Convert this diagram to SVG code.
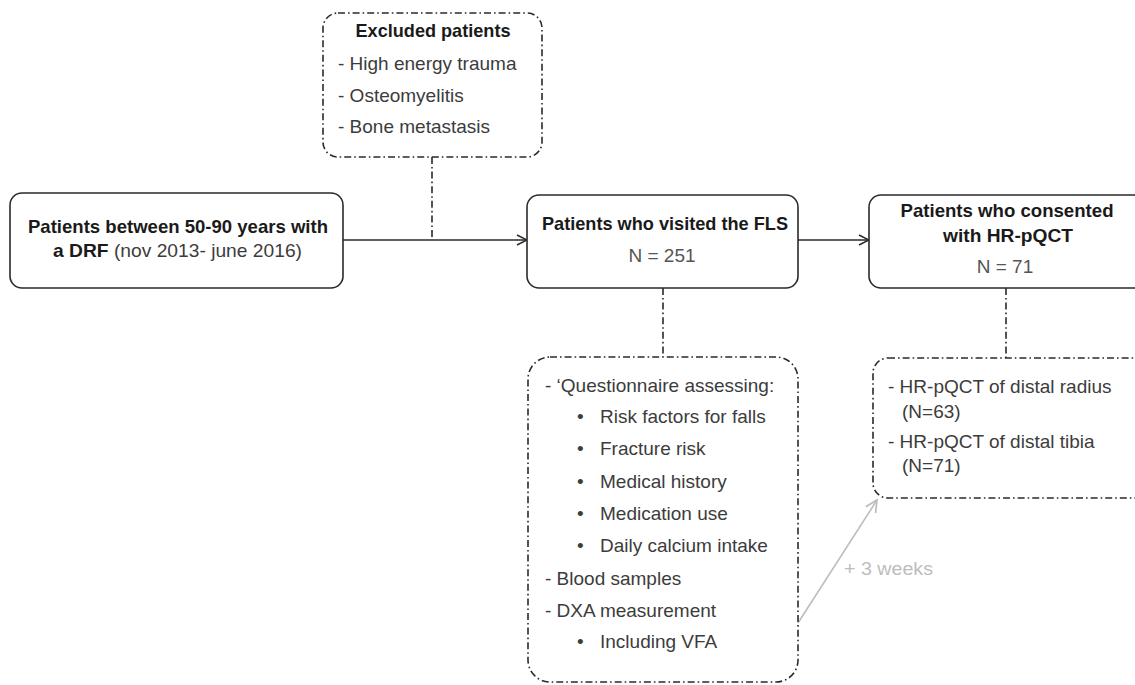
<svg xmlns="http://www.w3.org/2000/svg" width="1135" height="685" viewBox="0 0 1135 685">
<style>
text{font-family:"Liberation Sans",Arial,sans-serif;font-size:19px;fill:#3c3c3c}
.b{font-weight:bold;fill:#1a1a1a}
.c{text-anchor:middle}
.n{fill:#555}
.box{fill:#fff;stroke:#2a2a2a;stroke-width:1.6}
.dd{fill:none;stroke:#2a2a2a;stroke-width:1.6;stroke-dasharray:7 3 1.6 3}
.ln{fill:none;stroke:#2a2a2a;stroke-width:1.6}
.g{fill:#bdbdbd}
</style>
<defs>
<marker id="ah" viewBox="0 0 12 12" refX="11" refY="6" markerWidth="12" markerHeight="12" markerUnits="userSpaceOnUse" orient="auto">
<path d="M1,1 L11,6 L1,11" fill="none" stroke="#2a2a2a" stroke-width="1.5"/>
</marker>
<marker id="ahg" viewBox="0 0 12 12" refX="11" refY="6" markerWidth="14" markerHeight="14" markerUnits="userSpaceOnUse" orient="auto">
<path d="M1,1 L11,6 L1,11" fill="none" stroke="#bdbdbd" stroke-width="1.5"/>
</marker>
</defs>
<g id="connectors">
<line class="ln" x1="343" y1="240" x2="527" y2="240" marker-end="url(#ah)"/>
<line class="ln" x1="798" y1="240" x2="869" y2="240" marker-end="url(#ah)"/>
<line class="dd" x1="432" y1="157" x2="432" y2="240"/>
<line class="dd" x1="663" y1="288" x2="663" y2="357"/>
<line class="dd" x1="1006" y1="288" x2="1006" y2="358"/>
<line x1="798" y1="623" x2="877" y2="500" stroke="#bdbdbd" stroke-width="1.6" marker-end="url(#ahg)"/>
<text class="g" x="844" y="575" textLength="89" lengthAdjust="spacingAndGlyphs">+ 3 weeks</text>
</g>
<g id="excluded">
<rect class="dd" x="323" y="13" width="219" height="144" rx="15"/>
<text class="b c" x="433" y="37" textLength="155" lengthAdjust="spacingAndGlyphs">Excluded patients</text>
<text x="338" y="70">- High energy trauma</text>
<text x="338" y="102">- Osteomyelitis</text>
<text x="338" y="133">- Bone metastasis</text>
</g>
<g id="patients">
<rect class="box" x="10" y="193" width="333" height="95" rx="12"/>
<text class="b c" x="178" y="233" textLength="300" lengthAdjust="spacingAndGlyphs">Patients between 50-90 years with</text>
<text x="53" y="257" textLength="249" lengthAdjust="spacingAndGlyphs"><tspan class="b">a DRF</tspan> (nov 2013- june 2016)</text>
</g>
<g id="fls">
<rect class="box" x="527" y="195" width="271" height="93" rx="12"/>
<text class="b c" x="665" y="230" textLength="246" lengthAdjust="spacingAndGlyphs">Patients who visited the FLS</text>
<text class="c n" x="662" y="262">N = 251</text>
</g>
<g id="consented">
<rect class="box" x="869" y="195" width="290" height="93" rx="12"/>
<text class="b c" x="1007" y="217" textLength="213" lengthAdjust="spacingAndGlyphs">Patients who consented</text>
<text class="b c" x="1008" y="242" textLength="130" lengthAdjust="spacingAndGlyphs">with HR-pQCT</text>
<text class="c n" x="1005" y="273">N = 71</text>
</g>
<g id="assessments">
<rect class="dd" x="528" y="357" width="270" height="325" rx="22"/>
<text x="545" y="392">- ‘Questionnaire assessing:</text>
<text x="577" y="423">•</text><text x="600" y="423">Risk factors for falls</text>
<text x="577" y="455">•</text><text x="600" y="455">Fracture risk</text>
<text x="577" y="488">•</text><text x="600" y="488">Medical history</text>
<text x="577" y="520">•</text><text x="600" y="520">Medication use</text>
<text x="577" y="552">•</text><text x="600" y="552">Daily calcium intake</text>
<text x="545" y="585">- Blood samples</text>
<text x="545" y="617">- DXA measurement</text>
<text x="577" y="648">•</text><text x="600" y="648">Including VFA</text>
</g>
<g id="hrpqct">
<rect class="dd" x="873" y="358" width="290" height="140" rx="15"/>
<text x="888" y="393">- HR-pQCT of distal radius</text>
<text x="902" y="418">(N=63)</text>
<text x="888" y="448">- HR-pQCT of distal tibia</text>
<text x="902" y="472">(N=71)</text>
</g>
</svg>
